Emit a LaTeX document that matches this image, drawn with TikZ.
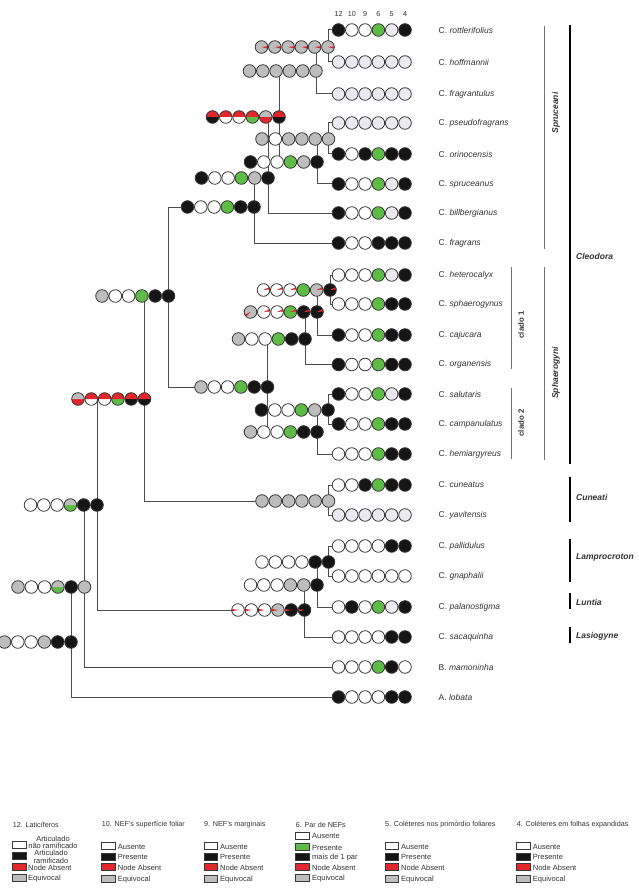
\documentclass[tikz,border=0pt]{standalone}
\usepackage{fontspec}
\setmainfont{Liberation Sans}
\definecolor{W}{HTML}{FFFFFF}
\definecolor{K}{HTML}{151515}
\definecolor{G}{HTML}{5DBB46}
\definecolor{Y}{HTML}{BDBDBD}
\definecolor{L}{HTML}{EAEAF0}
\definecolor{R}{HTML}{E3262B}
\definecolor{edge}{HTML}{383838}
\definecolor{txt}{HTML}{333333}
\newcommand\rr{6.3pt}
\newcommand\dt[4]{%
  \fill[fill=#3] #1 circle[radius=\rr];
  \fill[fill=#2] #1 ++(\rr,0pt) arc[start angle=0,end angle=180,radius=\rr] -- cycle;
  \ifnum#4=0 \else\fill[fill=R] #1 -- ++(#4:\rr) arc[start angle=#4,delta angle=22,radius=\rr] -- cycle;\fi
  \draw[edge,line width=0.8pt] #1 circle[radius=\rr];}
\newcommand\crow[3]{\foreach \tc/\bc/\ac [count=\cnt from 0] in {#3} {\dt{([xshift={(\cnt-#2)*13.3pt}]#1)}{\tc}{\bc}{\ac}}}
\newcommand\srow[3]{\foreach \cc [count=\cnt from 0] in {#3} {\dt{([xshift={(\cnt-#2)*13.3pt}]#1)}{\cc}{\cc}{0}}}
\tikzset{
  br/.style={draw=edge!90,line width=1pt},
  sp/.style={anchor=west,inner sep=0pt,text=txt,font=\fontsize{8.5}{9}\selectfont},
  hd/.style={inner sep=0pt,text=txt,font=\fontsize{7.2}{8}\selectfont},
  grp/.style={draw=black!55,line width=0.8pt},
  grpk/.style={draw=black,line width=1.6pt},
  glab/.style={inner sep=0pt,text=txt,font=\fontsize{8.5}{9}\selectfont\bfseries\itshape},
  clab/.style={inner sep=0pt,text=txt,rotate=90,font=\fontsize{7.8}{8}\selectfont\bfseries},
  lbox/.style={draw=edge,line width=0.6pt,minimum width=13.3pt,minimum height=7pt,inner sep=0pt},
  ltxt/.style={anchor=west,inner sep=0pt,text=txt,font=\fontsize{7.5}{7.6}\selectfont},
  ltit/.style={anchor=west,inner sep=0pt,text=txt,font=\fontsize{7.2}{8}\selectfont}
}
\begin{document}
\begin{tikzpicture}[x=1pt,y=-1pt]
\fill[white] (0,0) rectangle (638,896);
\useasboundingbox (0,0) rectangle (638,896);
% tips
\foreach \n/\y in {0/30,1/62,2/94,3/123,4/154,5/184,6/213,7/243,8/275,9/304,10/335,11/364.5,12/394,13/424,14/454,15/485,16/515,17/546,18/576,19/607,20/637,21/667,22/697}{\coordinate (t\n) at (338.5,\y);}
% internal nodes (6th circle)
\coordinate (n1) at (328,47);
\coordinate (n2) at (316,71);
\coordinate (r1) at (279,117);
\coordinate (n3) at (328.5,139);
\coordinate (n4) at (317,162);
\coordinate (n5) at (268,178);
\coordinate (s0) at (254,207);
\coordinate (cl) at (168.5,296);
\coordinate (h1) at (330,290);
\coordinate (h2) at (317,312);
\coordinate (h3) at (305,339);
\coordinate (sp0) at (267.5,387);
\coordinate (c2a) at (328,410);
\coordinate (c2) at (317,432);
\coordinate (rn) at (144.5,399);
\coordinate (cu) at (328.5,501);
\coordinate (l1) at (328.5,562);
\coordinate (x1) at (317,585);
\coordinate (ll) at (304.5,610);
\coordinate (nc) at (97,505);
\coordinate (nb) at (84.5,587);
\coordinate (rt) at (71,642);
% branches
\draw[br] ([xshift=-6.3pt]t0) -- (n1|-t0) -- (n1|-t1) -- ([xshift=-6.3pt]t1);
\draw[br] (n2|-n1) -- (n2|-t2) -- ([xshift=-6.3pt]t2);
\draw[br] (r1|-n2) -- (r1|-n4);
\draw[br] ([xshift=-6.3pt]t3) -- (n3|-t3) -- (n3|-t4) -- ([xshift=-6.3pt]t4);
\draw[br] (n4|-n3) -- (n4|-t5) -- ([xshift=-6.3pt]t5);
\draw[br] (n5|-r1) -- (n5|-t6) -- ([xshift=-6.3pt]t6);
\draw[br] (s0|-n5) -- (s0|-t7) -- ([xshift=-6.3pt]t7);
\draw[br] ([xshift=-72.8pt]s0) -- (cl|-s0) -- (cl|-sp0) -- ([xshift=-72.8pt]sp0);
\draw[br] ([xshift=-6.3pt]t8) -- (h1|-t8) -- (h1|-t9) -- ([xshift=-6.3pt]t9);
\draw[br] (h2|-h1) -- (h2|-t10) -- ([xshift=-6.3pt]t10);
\draw[br] (h3|-h2) -- (h3|-t11) -- ([xshift=-6.3pt]t11);
\draw[br] ([xshift=-6.3pt]t12) -- (c2a|-t12) -- (c2a|-t13) -- ([xshift=-6.3pt]t13);
\draw[br] (c2|-c2a) -- (c2|-t14) -- ([xshift=-6.3pt]t14);
\draw[br] (sp0|-h3) -- (sp0|-c2);
\draw[br] (rn|-cl) -- (rn|-cu) -- ([xshift=-72.8pt]cu);
\draw[br] ([xshift=-6.3pt]t15) -- (cu|-t15) -- (cu|-t16) -- ([xshift=-6.3pt]t16);
\draw[br] ([xshift=-6.3pt]t17) -- (l1|-t17) -- (l1|-t18) -- ([xshift=-6.3pt]t18);
\draw[br] (x1|-l1) -- (x1|-t19) -- ([xshift=-6.3pt]t19);
\draw[br] (ll|-x1) -- (ll|-t20) -- ([xshift=-6.3pt]t20);
\draw[br] (nc|-rn) -- (nc|-ll) -- ([xshift=-72.8pt]ll);
\draw[br] (nb|-nc) -- (nb|-t21) -- ([xshift=-6.3pt]t21);
\draw[br] (rt|-nb) -- (rt|-t22) -- ([xshift=-6.3pt]t22);
% internal rows
\crow{n1}{5}{Y/Y/345,Y/Y/345,Y/Y/345,Y/Y/345,Y/Y/345,Y/Y/345}
\srow{n2}{5}{Y,Y,Y,Y,Y,Y}
\crow{r1}{5}{R/K/0,R/W/0,R/W/0,R/G/0,Y/R/0,R/K/0}
\srow{n3}{5}{Y,W,Y,Y,Y,Y}
\srow{n4}{5}{K,W,W,G,Y,K}
\srow{n5}{5}{K,W,W,G,Y,K}
\srow{s0}{5}{K,W,W,G,K,K}
\srow{cl}{5}{Y,W,W,G,K,K}
\crow{h1}{5}{W/W/5,W/W/5,W/W/5,G/G/0,Y/Y/5,K/K/5}
\crow{h2}{5}{Y/Y/205,W/W/5,W/W/5,G/G/5,K/K/5,K/K/5}
\srow{h3}{5}{Y,W,W,G,K,K}
\srow{sp0}{5}{Y,W,W,G,K,K}
\srow{c2a}{5}{K,W,W,G,Y,K}
\srow{c2}{5}{Y,W,W,G,K,K}
\crow{rn}{5}{Y/R/0,R/W/0,R/W/0,R/G/0,R/K/0,R/K/0}
\srow{cu}{5}{Y,Y,Y,Y,Y,Y}
\srow{l1}{5}{W,W,W,W,K,K}
\srow{x1}{5}{W,W,W,Y,Y,K}
\crow{ll}{5}{W/W/170,W/W/170,W/W/170,Y/Y/170,K/K/170,K/K/170}
\crow{nc}{5}{W/W/0,W/W/0,W/W/0,Y/G/0,K/K/0,K/K/0}
\crow{nb}{5}{Y/Y/0,W/W/0,W/W/0,Y/G/0,K/K/0,Y/Y/0}
\srow{rt}{5}{Y,W,W,Y,K,K}
% tip rows
\srow{t0}{0}{K,W,W,G,L,K}
\srow{t1}{0}{L,L,L,L,L,L}
\srow{t2}{0}{L,L,L,L,L,L}
\srow{t3}{0}{L,L,L,L,L,L}
\srow{t4}{0}{K,W,K,G,K,K}
\srow{t5}{0}{K,W,W,G,L,K}
\srow{t6}{0}{K,W,W,G,L,K}
\srow{t7}{0}{K,W,W,K,K,K}
\srow{t8}{0}{W,W,W,G,L,K}
\srow{t9}{0}{W,W,W,G,K,K}
\srow{t10}{0}{K,W,W,G,K,K}
\srow{t11}{0}{K,W,W,G,K,K}
\srow{t12}{0}{K,W,W,G,L,K}
\srow{t13}{0}{K,W,W,G,K,K}
\srow{t14}{0}{W,W,W,G,K,K}
\srow{t15}{0}{W,W,K,G,K,K}
\srow{t16}{0}{L,L,L,L,L,L}
\srow{t17}{0}{W,W,W,W,K,K}
\srow{t18}{0}{W,W,W,W,W,W}
\srow{t19}{0}{W,K,W,G,L,K}
\srow{t20}{0}{W,W,W,W,K,K}
\srow{t21}{0}{W,W,W,G,K,W}
\srow{t22}{0}{K,W,W,W,K,K}
% header
\foreach \h [count=\cnt from 0] in {12,10,9,6,5,4}{\node[hd] (hd\cnt) at (338.5+\cnt*13.3,14) {\h};}
% species labels
\foreach \n/\g/\s in {0/C./rottlerifolius,1/C./hoffmannii,2/C./fragrantulus,3/C./pseudofragrans,4/C./orinocensis,5/C./spruceanus,6/C./billbergianus,7/C./fragrans,8/C./heterocalyx,9/C./sphaerogynus,10/C./cajucara,11/C./organensis,12/C./salutaris,13/C./campanulatus,14/C./hemiargyreus,15/C./cuneatus,16/C./yavitensis,17/C./pallidulus,18/C./gnaphalii,19/C./palanostigma,20/C./sacaquinha,21/B./mamoninha,22/A./lobata}{\node[sp] (sl\n) at ([xshift=100pt]t\n) {\g\ \textit{\s}};}
% group brackets
\draw[grp] (544.3,26) -- (544.3,249);
\node[glab,rotate=90] (gspr) at (556,113) {Spruceani};
\draw[grp] (544.3,267) -- (544.3,460);
\node[glab,rotate=90] (gsph) at (556,373) {Sphaerogyni};
\draw[grp] (511.7,267) -- (511.7,369);
\node[clab] (gc1) at (521,325) {clado 1};
\draw[grp] (511.7,388) -- (511.7,459);
\node[clab] (gc2) at (521,423) {clado 2};
\draw[grpk] (570,25) -- (570,464);
\node[glab,anchor=west] (gcle) at (576,256) {Cleodora};
\draw[grpk] (570,477) -- (570,522);
\node[glab,anchor=west] (gcun) at (576,497) {Cuneati};
\draw[grpk] (570,539) -- (570,582);
\node[glab,anchor=west] (glam) at (576,557) {Lamprocroton};
\draw[grpk] (570,593) -- (570,609);
\node[glab,anchor=west] (glun) at (576,602) {Luntia};
\draw[grpk] (570,627) -- (570,643);
\node[glab,anchor=west] (glas) at (576,636) {Lasiogyne};
% legend
\node[ltit] (t12) at (12.7,825) {12. Laticíferos};
\foreach \yy/\cc [count=\m] in {845/W,856/K,866.5/R,877.5/Y}{\node[lbox,fill=\cc] (a\m) at (19.35,\yy) {};}
\node[align=center,inner sep=0pt,text=txt,font=\fontsize{7.5}{7.3}\selectfont] (al1) at (53,842.3) {Articulado\\não ramificado};
\node[align=center,inner sep=0pt,text=txt,font=\fontsize{7.5}{7.3}\selectfont] (al2) at (51,856.8) {Articulado\\ramificado};
\node[ltxt] (al3) at (28,867.7) {Node Absent};
\node[ltxt] (al4) at (28,878.3) {Equivocal};
\foreach \cx/\nm/\ti in {101.7/p/{10. NEF's superfície foliar},204/q/{9. NEF's marginais},385/r/{5. Coléteres nos primórdio foliares},516.7/s/{4. Coléteres em folhas expandidas}}{
  \node[ltit] (\nm t) at (\cx,825) {\ti};
  \foreach \yy/\cc/\lab [count=\m] in {845.8/W/Ausente,856.3/K/Presente,867/R/Node Absent,878.3/Y/Equivocal}{
    \node[lbox,fill=\cc] (\nm\m) at (\cx+6.65,\yy) {};
    \node[ltxt] (\nm l\m) at (\cx+16,\yy+0.8) {\lab};
  }}
\node[ltit] (ut) at (295.7,825) {6. Par de NEFs};
\foreach \yy/\cc/\lab [count=\m] in {835.5/W/Ausente,846.7/G/Presente,856.7/K/mais de 1 par,866.7/R/Node Absent,877.5/Y/Equivocal}{
  \node[lbox,fill=\cc] (u\m) at (302.35,\yy) {};
  \node[ltxt] (ul\m) at (312,\yy+0.8) {\lab};
}
\end{tikzpicture}
\end{document}
